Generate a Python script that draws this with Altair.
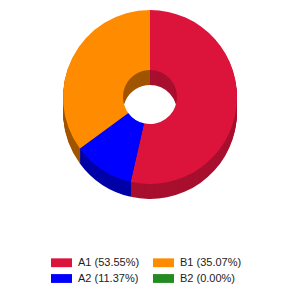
import altair as alt
import pandas as pd

names = ["A1", "A2", "B1", "B2"]
percents = [53.55, 11.37, 35.07, 0.00]
top_colors = {"A1": "#DC143C", "A2": "#0000FF", "B1": "#FF8C00", "B2": "#228B22"}
side_colors = {"A1": "#A80F2E", "A2": "#0000A8", "B1": "#A05500", "B2": "#166016"}
legend_order = ["A1", "B1", "A2", "B2"]

labels = [f"{n} ({p:.2f}%)" for n, p in zip(names, percents)]
label_of = dict(zip(names, labels))
df = pd.DataFrame({"name": names, "value": percents, "label": labels,
                   "order": list(range(len(names)))})

dom = [label_of[n] for n in legend_order]
top_range = [top_colors[n] for n in legend_order]
side_range = [side_colors[n] for n in legend_order]

CX, CY = 150, 97
R_OUT, R_IN = 87, 27
DEPTH = 15

base = alt.Chart(df)

layers = []
for dy in range(DEPTH, 0, -1):
    layers.append(
        base.mark_arc(outerRadius=R_OUT, innerRadius=R_IN, strokeWidth=0).encode(
            theta=alt.Theta("value:Q", stack=True),
            order=alt.Order("order:Q"),
            color=alt.Color("label:N", scale=alt.Scale(domain=dom, range=side_range), legend=None),
            x=alt.value(CX),
            y=alt.value(CY + dy),
        )
    )

top = base.mark_arc(outerRadius=R_OUT, innerRadius=R_IN, strokeWidth=0).encode(
    theta=alt.Theta("value:Q", stack=True),
    order=alt.Order("order:Q"),
    color=alt.Color(
        "label:N",
        scale=alt.Scale(domain=dom, range=top_range),
        title=None,
        legend=alt.Legend(
            orient="none",
            legendX=51,
            legendY=252,
            direction="horizontal",
            columns=2,
            columnPadding=13,
            rowPadding=-7,
            padding=0,
            symbolType="M-1,-0.42 h2 v0.84 h-2 z",
            symbolSize=441,
            symbolStrokeWidth=0,
            symbolOpacity=1,
            labelFont="Liberation Sans",
            labelFontSize=11,
            labelColor="#222222",
            labelOffset=6,
            labelLimit=200,
        ),
    ),
    x=alt.value(CX),
    y=alt.value(CY),
)
layers.append(top)

chart = alt.layer(*layers).resolve_scale(color="independent").properties(
    width=300,
    height=300,
    padding=0,
    autosize=alt.AutoSizeParams(type="none"),
).configure_view(stroke=None)

chart.save("out.html", embed_options={"renderer": "svg", "actions": False})
